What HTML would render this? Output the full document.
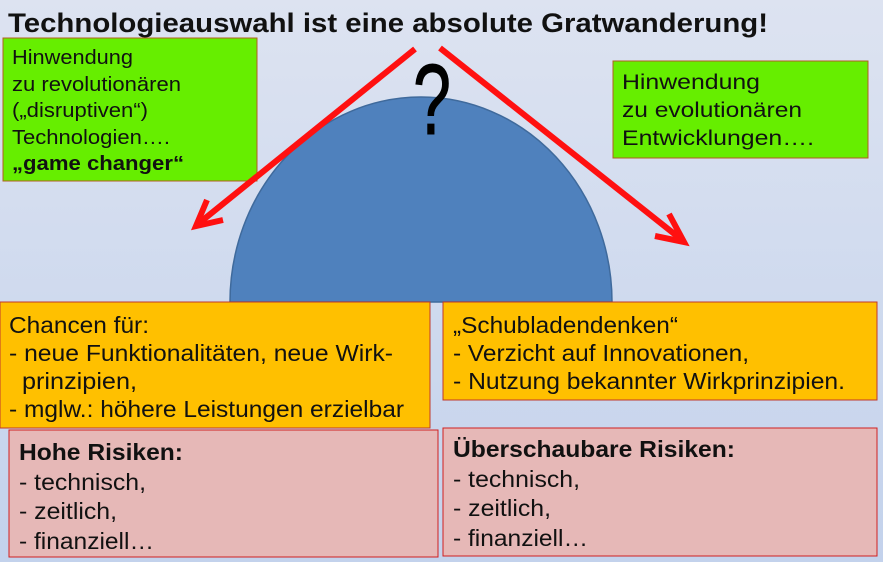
<!DOCTYPE html>
<html><head><meta charset="utf-8"><style>
html,body{margin:0;padding:0;width:883px;height:562px;overflow:hidden;}
svg{display:block;font-family:"Liberation Sans",sans-serif;}
</style></head><body>
<svg width="883" height="562" viewBox="0 0 883 562">
<defs><linearGradient id="bg" x1="0" y1="0" x2="0" y2="1">
<stop offset="0" stop-color="#dde3f1"/><stop offset="1" stop-color="#c3d2ec"/></linearGradient></defs>
<rect width="883" height="562" fill="url(#bg)"/>
<text x="8" y="32" font-size="27" font-weight="bold" fill="#111" textLength="760" lengthAdjust="spacingAndGlyphs">Technologieauswahl ist eine absolute Gratwanderung!</text>
<path d="M230,302 A191,205 0 0 1 612,302 Z" fill="#4f81bd" stroke="#3f6a9c" stroke-width="1.5"/>
<text x="413" y="134" font-size="100" fill="#000" stroke="#000" stroke-width="1" textLength="38" lengthAdjust="spacingAndGlyphs">?</text>
<rect x="3" y="38" width="254" height="143" fill="#66ee00" stroke="#b06020" stroke-width="1"/>
<g font-size="20" fill="#111">
<text x="12" y="64" textLength="121" lengthAdjust="spacingAndGlyphs">Hinwendung</text>
<text x="12" y="91" textLength="169" lengthAdjust="spacingAndGlyphs">zu revolutionären</text>
<text x="12" y="117" textLength="136" lengthAdjust="spacingAndGlyphs">(„disruptiven“)</text>
<text x="12" y="144" textLength="158" lengthAdjust="spacingAndGlyphs">Technologien….</text>
<text x="12" y="170" font-weight="bold" textLength="172" lengthAdjust="spacingAndGlyphs">„game changer“</text>
</g>
<rect x="613" y="61" width="255" height="97" fill="#66ee00" stroke="#b06020" stroke-width="1"/>
<g font-size="21" fill="#111">
<text x="622" y="89" textLength="138" lengthAdjust="spacingAndGlyphs">Hinwendung</text>
<text x="622" y="117" textLength="180" lengthAdjust="spacingAndGlyphs">zu evolutionären</text>
<text x="622" y="145" textLength="192" lengthAdjust="spacingAndGlyphs">Entwicklungen….</text>
</g>
<g stroke="#ff1010" stroke-width="6" fill="none" stroke-linecap="butt">
<line x1="415" y1="49" x2="198" y2="224"/>
<polyline points="207,200 196,226 223,220" stroke-width="6"/>
<line x1="440" y1="48" x2="682" y2="240"/>
<polyline points="669,214 684,242 655,236" stroke-width="6"/>
</g>
<rect x="0" y="302" width="430" height="126" fill="#ffc000" stroke="#c0392b" stroke-width="1"/>
<g font-size="23" fill="#111">
<text x="9" y="333" textLength="140" lengthAdjust="spacingAndGlyphs">Chancen für:</text>
<text x="9" y="361" textLength="384" lengthAdjust="spacingAndGlyphs">- neue Funktionalitäten, neue Wirk-</text>
<text x="22" y="389" textLength="115" lengthAdjust="spacingAndGlyphs">prinzipien,</text>
<text x="9" y="417" textLength="395" lengthAdjust="spacingAndGlyphs">- mglw.: höhere Leistungen erzielbar</text>
</g>
<rect x="443" y="302" width="434" height="98" fill="#ffc000" stroke="#c0392b" stroke-width="1"/>
<g font-size="23" fill="#111">
<text x="453" y="333" textLength="225" lengthAdjust="spacingAndGlyphs">„Schubladendenken“</text>
<text x="453" y="361" textLength="296" lengthAdjust="spacingAndGlyphs">- Verzicht auf Innovationen,</text>
<text x="453" y="389" textLength="392" lengthAdjust="spacingAndGlyphs">- Nutzung bekannter Wirkprinzipien.</text>
</g>
<rect x="9" y="430" width="429" height="127" fill="#e6b8b7" stroke="#d02020" stroke-width="1"/>
<g font-size="23" fill="#111">
<text x="19" y="460" font-weight="bold" textLength="164" lengthAdjust="spacingAndGlyphs">Hohe Risiken:</text>
<text x="19" y="490" textLength="127" lengthAdjust="spacingAndGlyphs">- technisch,</text>
<text x="19" y="519" textLength="98" lengthAdjust="spacingAndGlyphs">- zeitlich,</text>
<text x="19" y="549" textLength="135" lengthAdjust="spacingAndGlyphs">- finanziell…</text>
</g>
<rect x="443" y="428" width="434" height="128" fill="#e6b8b7" stroke="#d02020" stroke-width="1"/>
<g font-size="23" fill="#111">
<text x="453" y="457" font-weight="bold" textLength="282" lengthAdjust="spacingAndGlyphs">Überschaubare Risiken:</text>
<text x="453" y="487" textLength="127" lengthAdjust="spacingAndGlyphs">- technisch,</text>
<text x="453" y="516" textLength="98" lengthAdjust="spacingAndGlyphs">- zeitlich,</text>
<text x="453" y="546" textLength="135" lengthAdjust="spacingAndGlyphs">- finanziell…</text>
</g>
</svg>
</body></html>
